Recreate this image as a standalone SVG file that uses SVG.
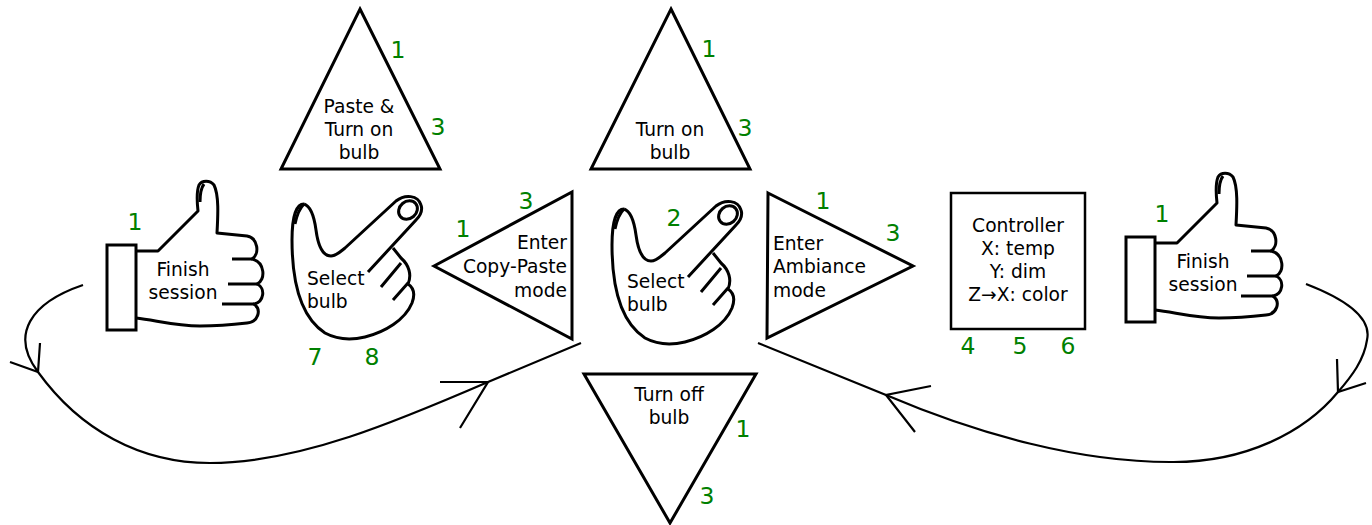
<svg xmlns="http://www.w3.org/2000/svg" width="1372" height="525" viewBox="0 0 1372 525">
<style>
.s{fill:#fff;stroke:#000;stroke-width:3;stroke-linejoin:miter}
.o{fill:none;stroke:#000;stroke-width:3;stroke-linecap:butt;stroke-linejoin:round}
.t{font-family:"DejaVu Sans","Liberation Sans",sans-serif;font-size:18.67px;fill:#000}
.m{text-anchor:middle}
.e{text-anchor:end}
.g{font-family:"DejaVu Sans","Liberation Sans",sans-serif;font-size:23.5px;fill:#008000;text-anchor:middle}
.c{fill:none;stroke:#000;stroke-width:2.2}
</style>
<defs>
<g id="thumb">
<rect x="107" y="245" width="29" height="85" class="s"/>
<path class="o" d="M136,251 L158,251 L198,211 C197,202 197,190 199,185 C202,180 210,180 214,185 C219,195 218,215 217,233 L247,236 C258,238 260,254 252,259 C265,262 266,280 257,284 C266,288 264,302 254,304 C262,310 258,322 247,323 C230,325 215,326 200,326 C175,326 155,320 136,318"/>
<path class="o" d="M200,202 C200,194 201,188 204,184 M232,259 L252,259 M228,284 L257,284 M222,304 L254,304"/>
</g>
<g id="point">
<path class="o" d="M304,204 C296,204 292,218 292,240 C292,285 302,318 325,333 C338,340 352,340 365,337 C385,332 405,320 412,303 C415,295 414,288 408,284 C412,275 409,265 401,258 L393,248"/>
<path class="o" d="M304,204 C310,206 314,215 316,230 C318,245 322,256 331,256 C336,256 340,252 345,248 L396,201 C405,194 418,195 421,205 C423,211 420,216 416,220 L368,272"/>
<path class="o" d="M295,224 C297,214 300,208 304,204 M381,287 L401,263 M393,300 L408,283"/>
<ellipse cx="408" cy="210" rx="10" ry="8.5" transform="rotate(-40 408 210)" class="o"/>
</g>
</defs>

<g id="connectors">
<path class="c" d="M83,285 C30,303 10,335 38,372 C80,430 140,463 210,463 C300,463 400,420 488,382 L581,343"/>
<path class="c" d="M10,362 L38,372 L40,343"/>
<path class="c" d="M440,382 L488,382 L460,428"/>
<path class="c" d="M1306,284 C1345,299 1372,318 1367,340 C1364,360 1352,376 1338,392 C1305,432 1245,463 1170,462 C1080,462 980,435 886,395 L758,343"/>
<path class="c" d="M1337,359 L1338,392 L1366,383"/>
<path class="c" d="M931,386 L886,395 L915,432"/>
</g>

<g id="finish-left">
<use href="#thumb"/>
<text class="t m" x="183" y="276">Finish</text>
<text class="t m" x="183" y="299">session</text>
<text class="g" x="135" y="230">1</text>
</g>

<g id="select-left">
<use href="#point"/>
<text class="t" x="307" y="285">Select</text>
<text class="t" x="307" y="308">bulb</text>
<text class="g" x="315" y="365">7</text>
<text class="g" x="372" y="365">8</text>
</g>

<g id="paste-on">
<polygon class="s" points="360,9 440,169 281,169"/>
<text class="t m" x="359" y="113">Paste &amp;</text>
<text class="t m" x="359" y="136">Turn on</text>
<text class="t m" x="359" y="159">bulb</text>
<text class="g" x="398" y="58">1</text>
<text class="g" x="438" y="135">3</text>
</g>

<g id="enter-copy">
<polygon class="s" points="434,266 572,192 572,339"/>
<text class="t e" x="567" y="249">Enter</text>
<text class="t e" x="567" y="273">Copy-Paste</text>
<text class="t e" x="567" y="297">mode</text>
<text class="g" x="463" y="237">1</text>
<text class="g" x="526" y="209">3</text>
</g>

<g id="turn-on">
<polygon class="s" points="671,9 750,169 591,169"/>
<text class="t m" x="670" y="136">Turn on</text>
<text class="t m" x="670" y="159">bulb</text>
<text class="g" x="709" y="57">1</text>
<text class="g" x="745" y="136">3</text>
</g>

<g id="select-center">
<use href="#point" transform="translate(320,5)"/>
<text class="t" x="627" y="288">Select</text>
<text class="t" x="627" y="311">bulb</text>
<text class="g" x="674" y="226">2</text>
</g>

<g id="turn-off">
<polygon class="s" points="584,374 756,374 670,523"/>
<text class="t m" x="669" y="401">Turn off</text>
<text class="t m" x="669" y="424">bulb</text>
<text class="g" x="743" y="437">1</text>
<text class="g" x="707" y="504">3</text>
</g>

<g id="enter-ambiance">
<polygon class="s" points="768,193 913,266 767,338"/>
<text class="t" x="773" y="250">Enter</text>
<text class="t" x="773" y="273">Ambiance</text>
<text class="t" x="773" y="297">mode</text>
<text class="g" x="823" y="209">1</text>
<text class="g" x="893" y="241">3</text>
</g>

<g id="controller">
<rect class="s" x="951" y="193" width="134" height="136" style="stroke-width:2.5"/>
<text class="t m" x="1018" y="232">Controller</text>
<text class="t m" x="1018" y="255">X: temp</text>
<text class="t m" x="1018" y="278">Y: dim</text>
<text class="t m" x="1018" y="301">Z→X: color</text>
<text class="g" x="968" y="354">4</text>
<text class="g" x="1020" y="354">5</text>
<text class="g" x="1068" y="354">6</text>
</g>

<g id="finish-right">
<use href="#thumb" transform="translate(1019,-8)"/>
<text class="t m" x="1203" y="268">Finish</text>
<text class="t m" x="1203" y="291">session</text>
<text class="g" x="1162" y="222">1</text>
</g>
</svg>
